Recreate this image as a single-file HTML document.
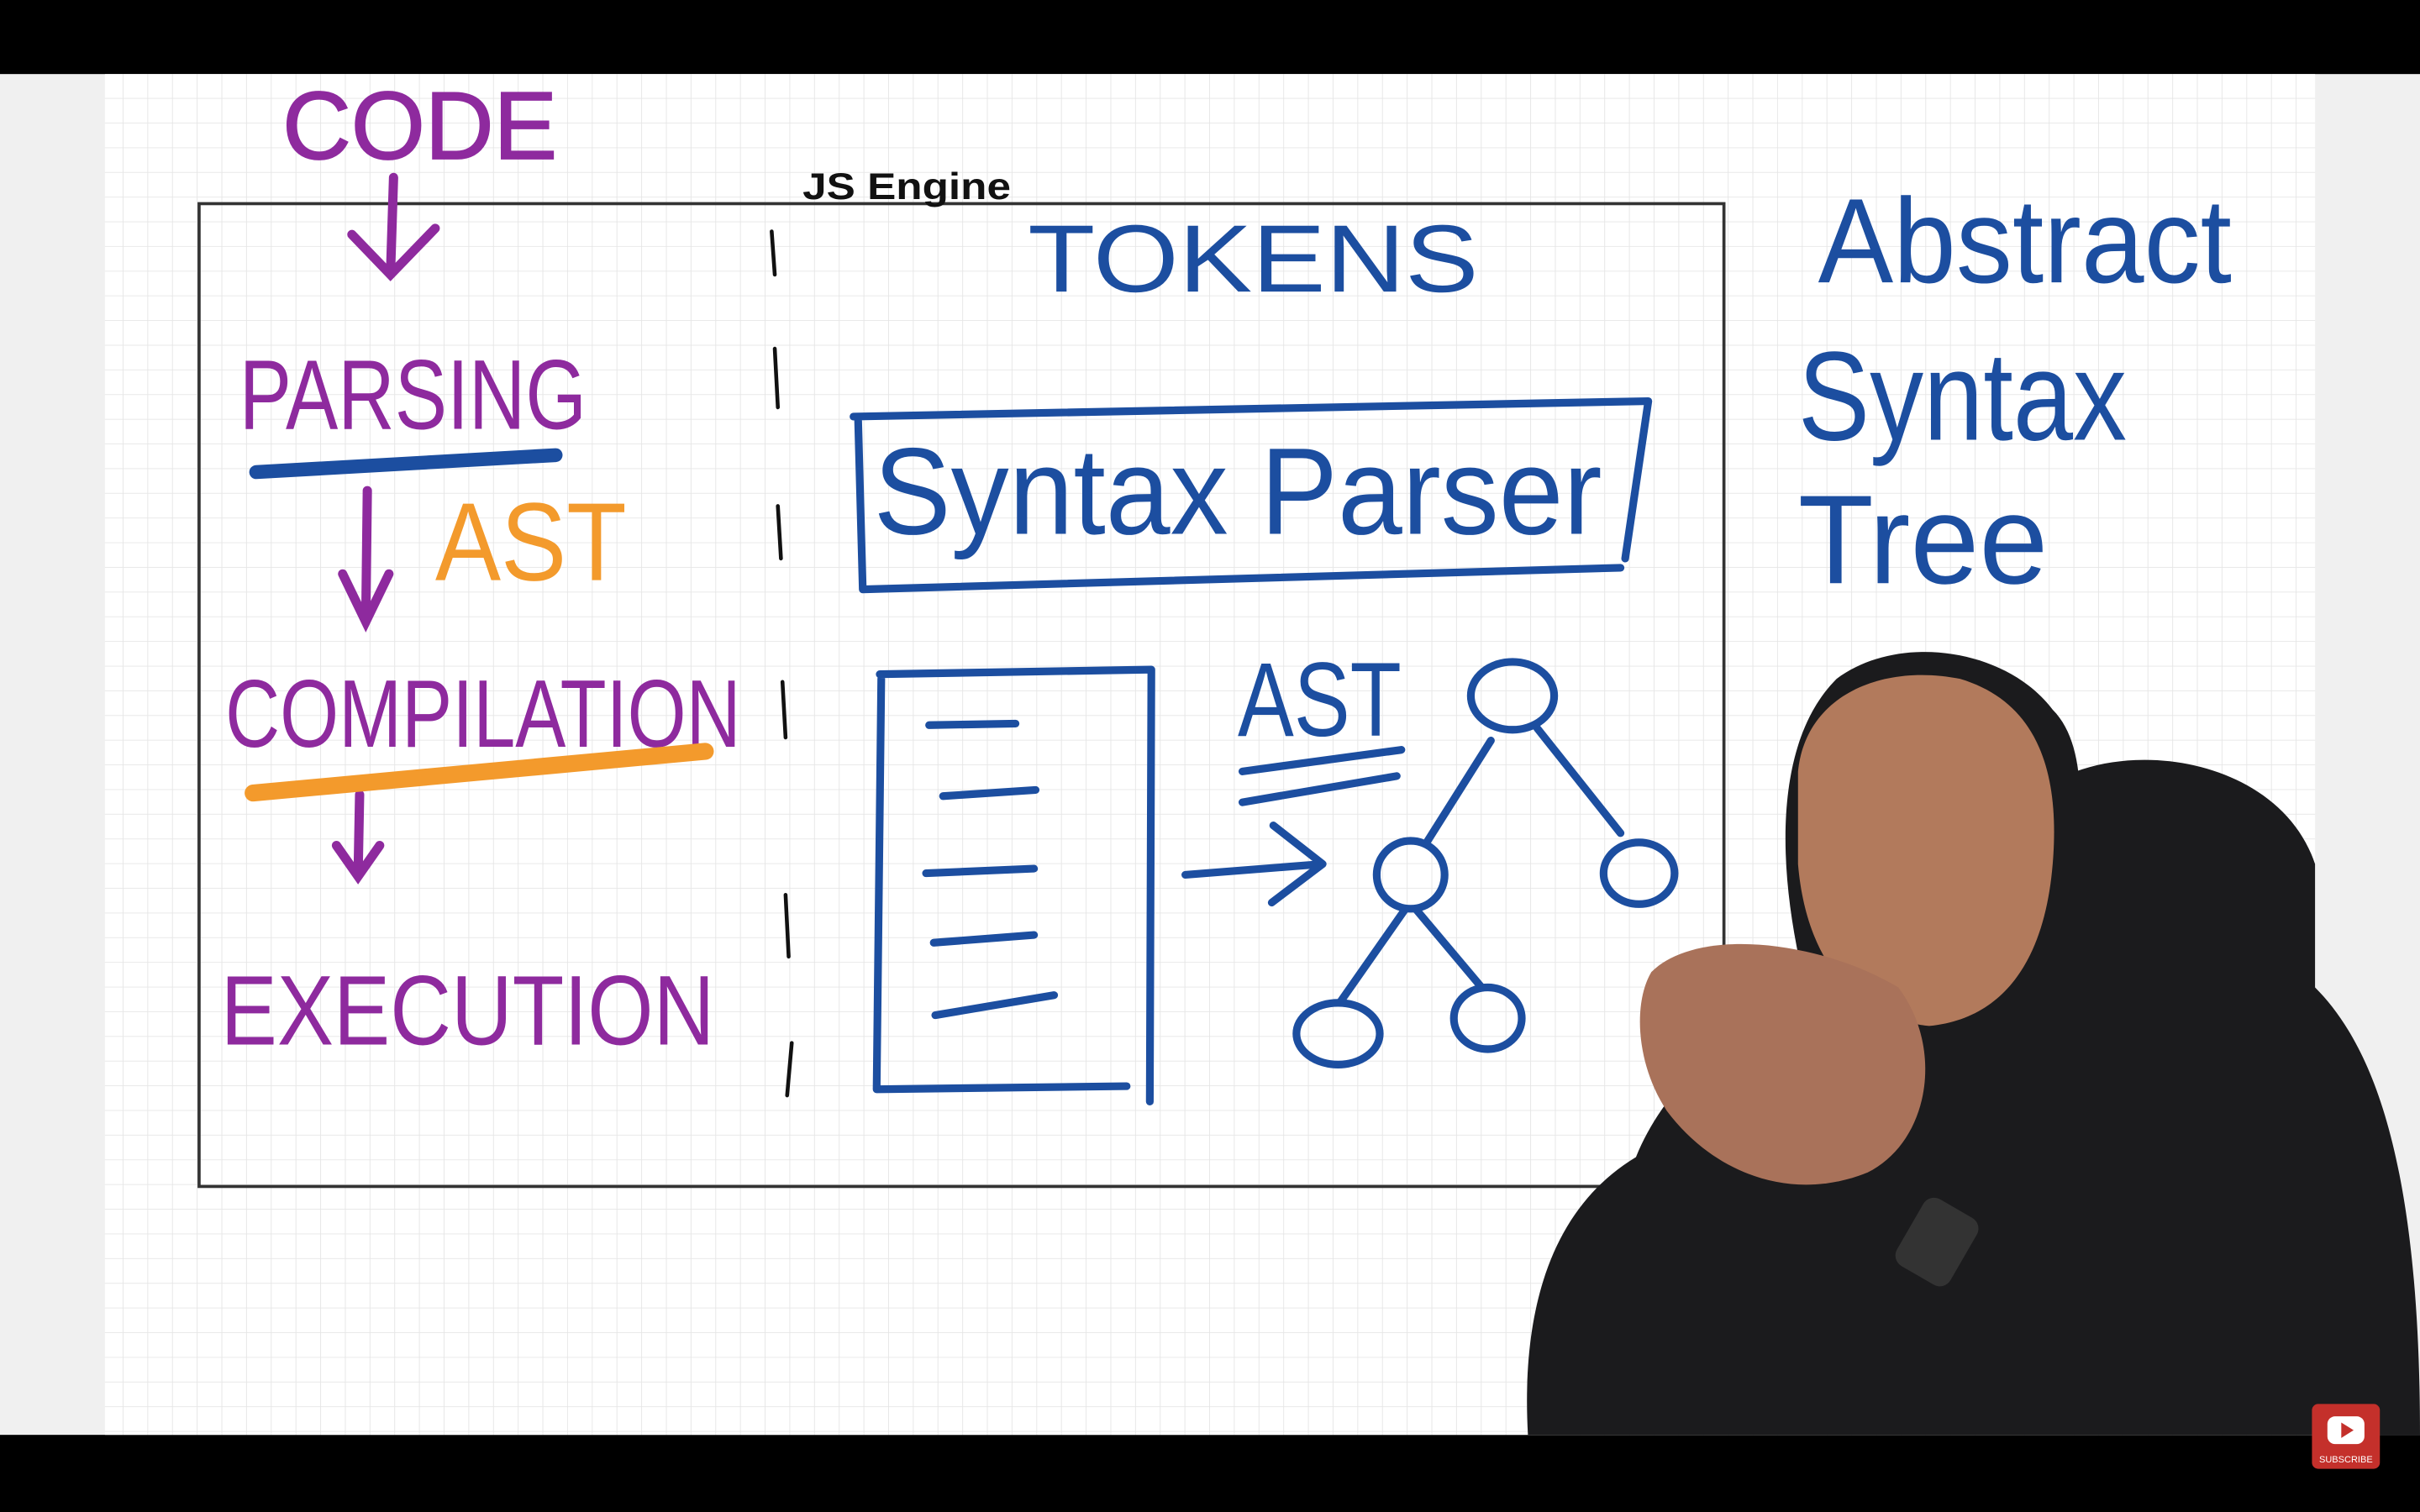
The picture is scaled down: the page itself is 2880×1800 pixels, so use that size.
<!DOCTYPE html>
<html><head><meta charset="utf-8">
<style>
html,body{margin:0;padding:0;background:#000;}
svg{display:block;}
text{font-family:"Liberation Sans",sans-serif;}
</style></head>
<body>
<svg width="2880" height="1800" viewBox="0 0 1568 980" preserveAspectRatio="none" xmlns="http://www.w3.org/2000/svg">
<defs>
<pattern id="g" width="16" height="16" patternUnits="userSpaceOnUse">
<rect width="16" height="16" fill="#ffffff"/>
<path d="M16 0V16M0 16H16" stroke="#e6e6e6" stroke-width="1"/>
</pattern>
</defs>
<rect x="0" y="0" width="1568" height="980" fill="#000"/>
<rect x="0" y="48" width="1568" height="882" fill="#f0f0f0"/>
<rect x="68" y="48" width="1432" height="882" fill="url(#g)"/>
<rect x="129" y="132" width="988" height="637" fill="none" stroke="#333" stroke-width="2"/>
<text x="520" y="129" font-size="24" font-weight="bold" fill="#111" textLength="135" lengthAdjust="spacingAndGlyphs">JS Engine</text>

<g fill="#8e2a9e" stroke="#8e2a9e">
<text x="183" y="103" font-size="62" stroke-width="1" textLength="178" lengthAdjust="spacingAndGlyphs">CODE</text>
<text x="155" y="278" font-size="64" stroke-width="0" textLength="225" lengthAdjust="spacingAndGlyphs">PARSING</text>
<text x="146" y="484" font-size="62" stroke-width="0" textLength="334" lengthAdjust="spacingAndGlyphs">COMPILATION</text>
<text x="143" y="677" font-size="64" stroke-width="0" textLength="320" lengthAdjust="spacingAndGlyphs">EXECUTION</text>
</g>
<g stroke="#8e2a9e" stroke-width="6" fill="none" stroke-linecap="round">
<path d="M255 115 L253 178 M228 152 L253 178 L282 148"/>
<path d="M238 318 L237 403 M222 372 L237 403 L252 372"/>
<path d="M233 515 L232 568 M218 548 L232 568 L246 548"/>
</g>
<line x1="166" y1="306" x2="360" y2="295" stroke="#1c4ea0" stroke-width="9" stroke-linecap="round"/>
<text x="282" y="376" font-size="72" fill="#f39a2c" textLength="124" lengthAdjust="spacingAndGlyphs">AST</text>
<line x1="164" y1="514" x2="457" y2="487" stroke="#f39a2c" stroke-width="11" stroke-linecap="round"/>

<g stroke="#111" stroke-width="2.5" stroke-linecap="round">
<line x1="500" y1="150" x2="502" y2="178"/>
<line x1="502" y1="226" x2="504" y2="264"/>
<line x1="504" y1="328" x2="506" y2="362"/>
<line x1="507" y1="442" x2="509" y2="478"/>
<line x1="509" y1="580" x2="511" y2="620"/>
<line x1="513" y1="676" x2="510" y2="710"/>
</g>

<g fill="#1c4ea0">
<text x="666" y="189" font-size="62" textLength="292" lengthAdjust="spacingAndGlyphs">TOKENS</text>
<text x="566" y="346" font-size="80" textLength="472" lengthAdjust="spacingAndGlyphs">Syntax Parser</text>
<text x="802" y="477" font-size="68" textLength="106" lengthAdjust="spacingAndGlyphs">AST</text>
<text x="1178" y="183" font-size="78" textLength="268" lengthAdjust="spacingAndGlyphs">Abstract</text>
<text x="1165" y="285" font-size="82" textLength="213" lengthAdjust="spacingAndGlyphs">Syntax</text>
<text x="1165" y="378" font-size="82" textLength="162" lengthAdjust="spacingAndGlyphs">Tree</text>
</g>
<g stroke="#1c4ea0" fill="none" stroke-width="5" stroke-linecap="round" stroke-linejoin="round">
<path d="M553 270 L1068 260 L1053 362 M556 272 L559 382 L1050 368"/>
<path d="M570 437 L746 434 L745 714 M571 440 L568 706 L730 704"/>
<path d="M602 470 L658 469 M611 516 L671 512 M600 566 L670 563 M605 611 L670 606 M606 658 L683 645"/>
<path d="M805 500 L908 486 M805 520 L905 503"/>
<path d="M768 567 L857 560 M825 535 L857 560 L824 585"/>
<ellipse cx="980" cy="451" rx="27" ry="22"/>
<ellipse cx="914" cy="567" rx="22" ry="22"/>
<ellipse cx="1062" cy="566" rx="23" ry="20"/>
<ellipse cx="867" cy="670" rx="27" ry="20"/>
<ellipse cx="964" cy="660" rx="22" ry="20"/>
<path d="M966 480 L925 545 M996 472 L1050 540 M910 590 L868 650 M918 590 L960 640"/>
</g>

<path d="M990 930 C985 840 1010 780 1060 750 C1080 700 1130 660 1170 640 C1150 560 1150 480 1190 440 C1230 410 1300 420 1330 460 C1350 480 1350 520 1345 560 L1345 500 C1400 480 1480 500 1500 560 L1500 640 C1540 680 1568 760 1568 930 Z" fill="#1b1b1d"/>
<path d="M1165 500 C1170 450 1220 430 1270 440 C1320 455 1335 500 1330 560 C1325 620 1300 660 1250 665 C1200 660 1170 620 1165 560 Z" fill="#b27a5c"/>
<path d="M1070 630 C1100 600 1180 610 1230 640 C1260 680 1250 740 1210 760 C1160 780 1110 760 1080 720 C1060 690 1058 650 1070 630 Z" fill="#a9725a"/>
<rect x="1235" y="780" width="40" height="50" rx="8" fill="#333" transform="rotate(30 1255 805)"/>

<rect x="1498" y="910" width="44" height="42" rx="4" fill="#c4302b"/>
<rect x="1508" y="918" width="24" height="18" rx="5" fill="#fff"/>
<path d="M1517 922 L1525 927 L1517 932 Z" fill="#c4302b"/>
<text x="1520" y="948" font-size="6" fill="#fff" text-anchor="middle">SUBSCRIBE</text>
</svg>
</body></html>
